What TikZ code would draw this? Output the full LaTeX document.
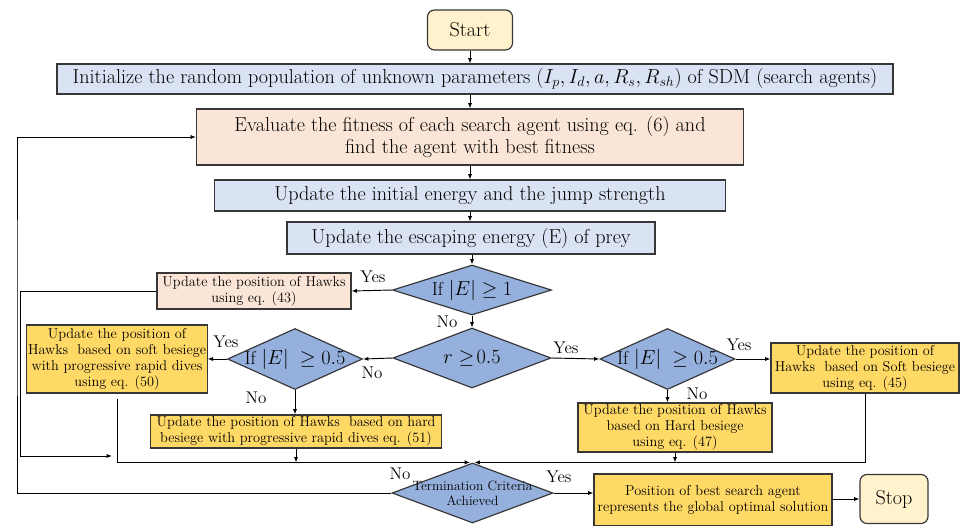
\documentclass[tikz,border=0pt]{standalone}
\usetikzlibrary{shapes.geometric,arrows.meta}

\definecolor{linec}{RGB}{55,55,55}
\definecolor{bluebox}{RGB}{218,227,243}
\definecolor{peach}{RGB}{251,229,214}
\definecolor{gold}{RGB}{255,217,102}
\definecolor{termc}{RGB}{255,242,204}
\definecolor{diac}{RGB}{150,176,222}

\begin{document}
\begin{tikzpicture}[x=0.03cm,y=-0.03cm,
  base/.style={draw=linec, line width=1pt, align=center, inner sep=1pt},
  sz/.style 2 args={minimum width=#1*0.03cm, minimum height=#2*0.03cm},
  bigtxt/.style={font=\fontsize{17.2}{19.5}\selectfont},
  smalltxt/.style={font=\fontsize{12.2}{13.6}\selectfont},
  bluestep/.style={base, bigtxt, fill=bluebox},
  peachstep/.style={base, fill=peach},
  goldstep/.style={base, smalltxt, fill=gold},
  termbox/.style={base, bigtxt, fill=termc, rounded corners=6pt},
  dec/.style={base, diamond, fill=diac, inner sep=0pt},
  dectxt/.style={font=\fontsize{16}{18}\selectfont},
  lab/.style={font=\fontsize{14.5}{15}\selectfont, inner sep=1pt},
  arr/.style={draw=black, line width=0.8pt, -{Latex[length=4.5pt,width=3.5pt]}}
]
\useasboundingbox (0,0) rectangle (961,525);

% main column
\node[termbox, sz={85}{40}] (start) at (470,30) {Start};
\node[bluestep, sz={836}{30}] (init) at (475,79)
  {Initialize the random population of unknown parameters ($I_p, I_d, a, R_s, R_{sh}$) of SDM (search agents)};
\node[peachstep, bigtxt, sz={547}{56}] (eval) at (470,137)
  {Evaluate the fitness of each search agent using eq. (6) and\\find the agent with best fitness};
\node[bluestep, sz={511}{31}] (ene) at (470,195.5) {Update the initial energy and the jump strength};
\node[bluestep, sz={368}{32}] (esc) at (471,238) {Update the escaping energy (E) of prey};

% decisions
\node[dec, sz={159}{50}, label={[dectxt]center:If $|E|\geq 1$}] (d1) at (472,290) {};
\node[dec, sz={158}{60}, label={[dectxt]center:$r\geq\!0.5$}] (d2) at (472,358) {};
\node[dec, sz={135}{61}, label={[dectxt]center:If $|E|\ \geq 0.5$}] (d3) at (295,359) {};
\node[dec, sz={135}{61}, label={[dectxt]center:If $|E|\ \geq 0.5$}] (d4) at (667.5,359) {};
\node[dec, sz={161}{60}, label={[font=\fontsize{11.5}{12.5}\selectfont, align=center]center:Termination Criteria\\Achieved}] (term) at (472.5,493) {};

% position updates
\node[peachstep, smalltxt, sz={194}{36}] (h43) at (254,291) {Update the position of Hawks\\using eq. (43)};
\node[goldstep, sz={180}{68}] (b50) at (117,359)
  {Update the position of\\Hawks\ \ based on soft besiege\\with progressive rapid dives\\using eq. (50)};
\node[goldstep, sz={291}{33}] (b51) at (296,431.5)
  {Update the position of Hawks\ \ based on hard\\besiege with progressive rapid dives eq. (51)};
\node[goldstep, sz={188}{50}] (b45) at (865,368)
  {Update the position of\\Hawks\ \ based on Soft besiege\\using eq. (45)};
\node[goldstep, sz={194}{49}] (b47) at (675,427.5)
  {Update the position of Hawks\\based on Hard besiege\\using eq. (47)};
\node[goldstep, sz={238}{52}] (fin) at (713,500)
  {Position of best search agent\\represents the global optimal solution};
\node[termbox, sz={68}{49}] (stop) at (894,499) {Stop};

% helper points for the loop-back lines
\coordinate (lx) at (20,456);
\coordinate (lend) at (112,456);
\coordinate (rx) at (17,300);
\coordinate (b50out) at (117,399);

% main column arrows
\draw[arr] (start.south) -- (start.south |- init.north);
\draw[arr] (eval.north |- init.south) -- (eval.north);
\draw[arr] (eval.south) -- (ene.north);
\draw[arr] (ene.south) -- (ene.south |- esc.north);
\draw[arr] (d1.north |- esc.south) -- (d1.north);
\draw[arr] (d1.south) -- (d2.north);

% branches
\draw[arr] (d1.west) -- (h43.east);
\draw[arr] (h43.west) -| (lx) -- (lend);
\draw[arr] (d2.west) -- (d3.east);
\draw[arr] (d3.west) -- (b50.east);
\draw[arr] (d3.south) -- (d3.south |- b51.north);
\draw[arr] (d2.east) -- (d4.west);
\draw[arr] (d4.east) -- (d4.east -| b45.west);
\draw[arr] (d4.south) -- (d4.south |- b47.north);

% merge into termination test
\draw[arr] (b50out) |- ([xshift=-2.5*0.03cm]term.north);
\draw[arr] (b51.south) -- (b51.south |- term.north);
\draw[arr] (b45.south) |- ([xshift=2*0.03cm]term.north);
\draw[arr] (b47.south) -- (b47.south |- term.north);

% termination outcomes
\draw[arr] (term.west) -| (rx) |- (eval.west);
\draw[arr] (term.east) -- (term.east -| fin.west);
\draw[arr] (fin.east |- stop.west) -- (stop.west);

% branch labels
\node[lab] (y1) at (373,277) {Yes};
\node[lab] (n1) at (447,322) {No};
\node[lab] (n2) at (372,373) {No};
\node[lab] (y3) at (226,342) {Yes};
\node[lab] (n3) at (256,398) {No};
\node[lab] (y2) at (566,348) {Yes};
\node[lab] (y4) at (739,345) {Yes};
\node[lab] (n4) at (697,394) {No};
\node[lab] (n5) at (400,474) {No};
\node[lab] (y5) at (559,477) {Yes};
\end{tikzpicture}
\end{document}
